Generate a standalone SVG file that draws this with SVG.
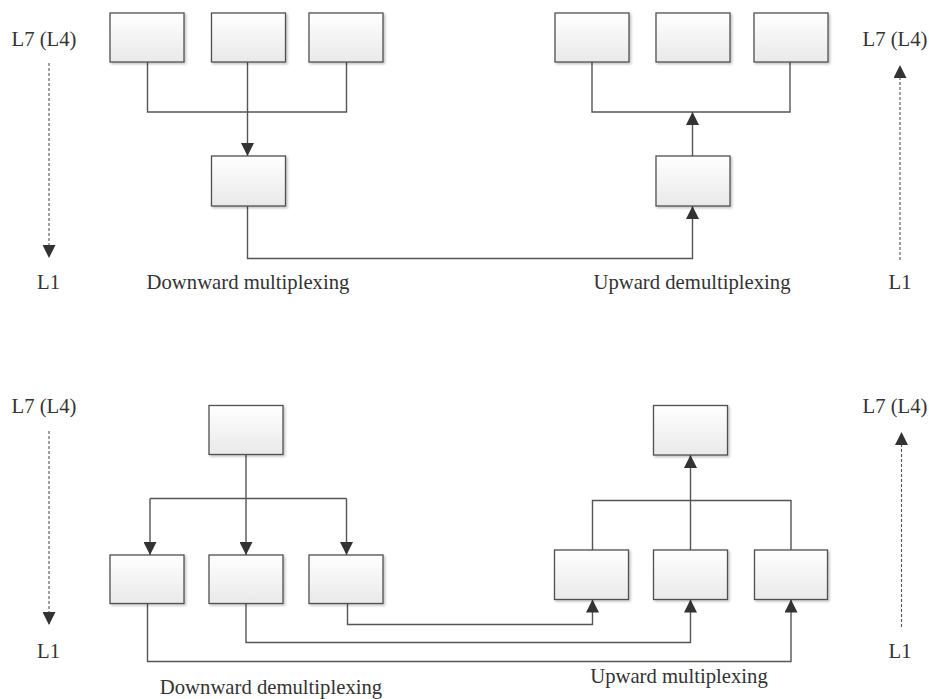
<svg xmlns="http://www.w3.org/2000/svg" width="929" height="699" viewBox="0 0 929 699">
<style>
.box{fill:url(#g);stroke:#505050;stroke-width:1.3;filter:url(#sh)}
.ln{fill:none;stroke:#555;stroke-width:1.4}
.ar{marker-end:url(#ah)}
.ds{fill:none;stroke:#555;stroke-width:1.1;stroke-dasharray:3 2;marker-end:url(#ah)}
text{font-family:"Liberation Serif","Times New Roman",serif;font-size:20.7px;fill:#333;text-anchor:middle}
</style>
<defs>
<linearGradient id="g" x1="0" y1="0" x2="0" y2="1">
<stop offset="0" stop-color="#ffffff"/>
<stop offset="1" stop-color="#e9e9e9"/>
</linearGradient>
<filter id="sh" x="-10%" y="-10%" width="130%" height="130%">
<feDropShadow dx="1.5" dy="1.5" stdDeviation="1" flood-color="#000" flood-opacity="0.25"/>
</filter>
<marker id="ah" markerUnits="userSpaceOnUse" markerWidth="13" markerHeight="13" viewBox="0 0 13 13" refX="13" refY="6.5" orient="auto">
<path d="M0,0 L13,6.5 L0,13 z" fill="#333"/>
</marker>
</defs>

<g id="connectors">
<path class="ln" d="M147.5,62 V112 H346.5 V62"/>
<path class="ln ar" d="M247.5,62 V156"/>
<path class="ln ar" d="M247.5,206 V258.5 H692.5 V206"/>
<path class="ln" d="M592,62 V112 H790 V62"/>
<path class="ln ar" d="M692.5,156 V112"/>
<path class="ds" d="M49,63 V258"/>
<path class="ds" d="M900,260 V65"/>

<path class="ln ar" d="M246,454 V555"/>
<path class="ln" d="M150,498.5 H346.5"/>
<path class="ln ar" d="M150,498.5 V555"/>
<path class="ln ar" d="M346.5,498.5 V555"/>
<path class="ln ar" d="M347.5,603.5 V624.5 H592.5 V599.5"/>
<path class="ln ar" d="M246,603.5 V642.5 H690.5 V599.5"/>
<path class="ln ar" d="M147.5,603.5 V661.5 H791 V599.5"/>
<path class="ln" d="M592.5,550 V500.5 H791 V550"/>
<path class="ln ar" d="M690.5,550 V455"/>
<path class="ds" d="M49,431 V625"/>
<path class="ds" d="M901.5,627 V432"/>
</g>

<g id="top-a1"><rect class="box" x="110" y="13" width="74" height="49"/></g>
<g id="top-a2"><rect class="box" x="211.5" y="13" width="74" height="49"/></g>
<g id="top-a3"><rect class="box" x="309" y="13" width="74" height="49"/></g>
<g id="top-amux"><rect class="box" x="211.5" y="156" width="74" height="50"/></g>
<g id="top-b1"><rect class="box" x="555" y="13" width="74" height="49"/></g>
<g id="top-b2"><rect class="box" x="656" y="13" width="74" height="49"/></g>
<g id="top-b3"><rect class="box" x="754" y="13" width="74" height="49"/></g>
<g id="top-bdemux"><rect class="box" x="656" y="156" width="74" height="50"/></g>

<g id="bot-atop"><rect class="box" x="209" y="405.5" width="74" height="49"/></g>
<g id="bot-a1"><rect class="box" x="110" y="555" width="74" height="48.5"/></g>
<g id="bot-a2"><rect class="box" x="209" y="555" width="74" height="48.5"/></g>
<g id="bot-a3"><rect class="box" x="309" y="555" width="74" height="48.5"/></g>
<g id="bot-btop"><rect class="box" x="653.5" y="405.5" width="74" height="49.5"/></g>
<g id="bot-b1"><rect class="box" x="554.5" y="550" width="74" height="49.5"/></g>
<g id="bot-b2"><rect class="box" x="653.5" y="550" width="74" height="49.5"/></g>
<g id="bot-b3"><rect class="box" x="754.5" y="550" width="73" height="49.5"/></g>

<g id="labels">
<text x="44" y="46">L7 (L4)</text>
<text x="895" y="46">L7 (L4)</text>
<text x="48.5" y="289">L1</text>
<text x="900" y="289">L1</text>
<text x="248" y="289">Downward multiplexing</text>
<text x="692" y="289">Upward demultiplexing</text>
<text x="44" y="413">L7 (L4)</text>
<text x="895" y="413">L7 (L4)</text>
<text x="48.5" y="658">L1</text>
<text x="900" y="658">L1</text>
<text x="271" y="694">Downward demultiplexing</text>
<text x="679" y="683">Upward multiplexing</text>
</g>
</svg>
